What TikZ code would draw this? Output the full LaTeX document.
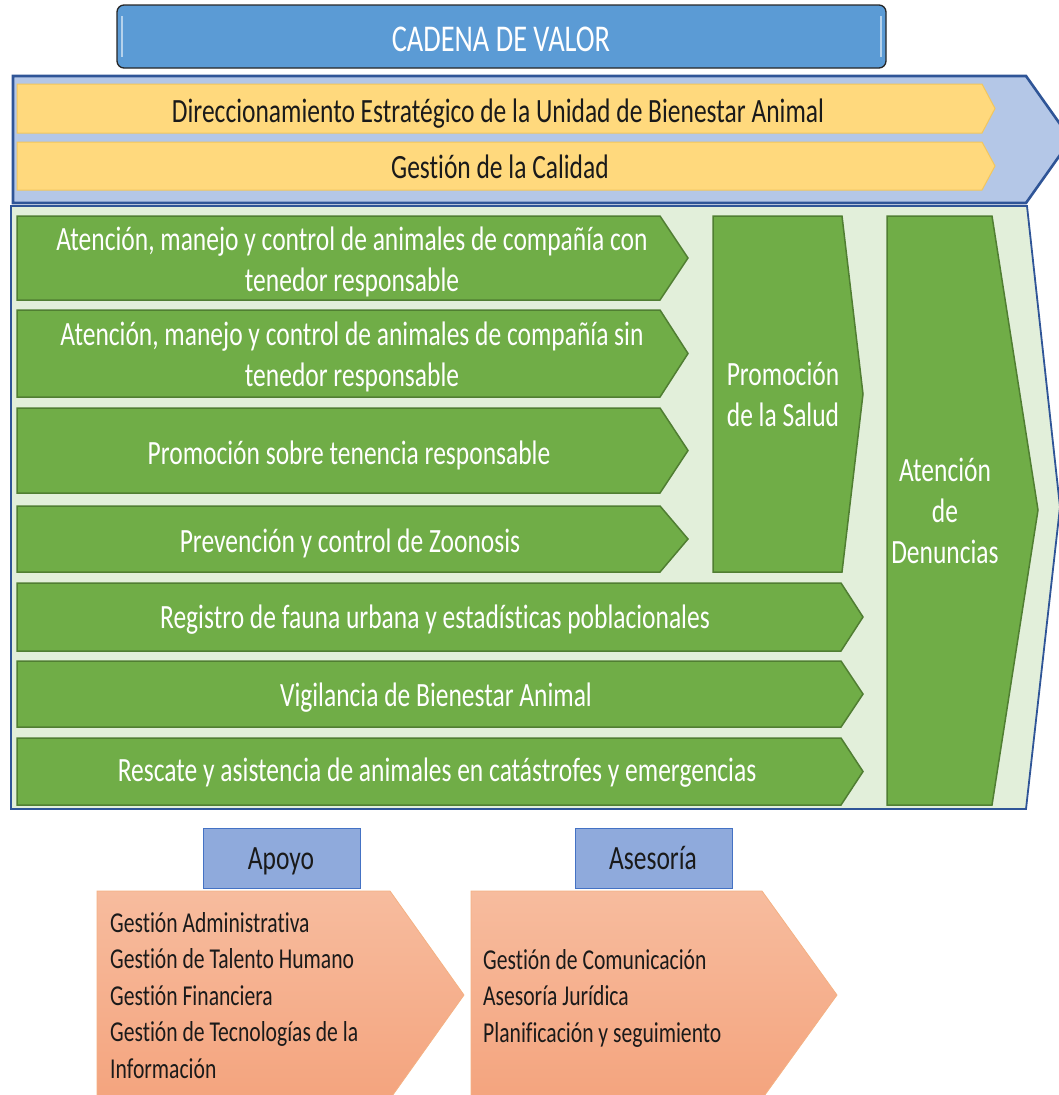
\documentclass[tikz,border=0pt]{standalone}
\usepackage{fontspec}
\setmainfont[FakeStretch=0.75, Ligatures={NoCommon}]{Carlito}
\newcommand\fsz[2]{\fontsize{#1}{#2}\selectfont}
\definecolor{titleblue}{HTML}{5B9BD5}
\definecolor{chevblue}{HTML}{B4C7E7}
\definecolor{darkblue}{HTML}{2F5597}
\definecolor{yel}{HTML}{FFD97D}
\definecolor{yeledge}{HTML}{F2C65E}
\definecolor{bggreen}{HTML}{E2EFDA}
\definecolor{grn}{HTML}{70AD47}
\definecolor{grnedge}{HTML}{507E32}
\definecolor{boxblue}{HTML}{8FAADC}
\definecolor{boxedge}{HTML}{4472C4}
\definecolor{orgtop}{HTML}{F7BC9E}
\definecolor{orgbot}{HTML}{F4A47E}
\definecolor{orgedge}{HTML}{F4B183}
\definecolor{txt}{HTML}{1A1A1A}
\tikzset{
  titlebox/.style={fill=titleblue, draw=black!85, line width=1.3pt, rounded corners=7pt},
  bigchev/.style={fill=chevblue, draw=darkblue, line width=2.6pt, line join=miter},
  yelbar/.style={fill=yel, draw=yeledge, line width=1pt},
  bgpanel/.style={fill=bggreen, draw=darkblue, line width=1.8pt},
  grnbar/.style={fill=grn, draw=grnedge, line width=1.5pt},
  labbox/.style={fill=boxblue, draw=boxedge, line width=1pt},
  orgchev/.style={top color=orgtop, bottom color=orgbot, draw=orgedge, line width=0.8pt},
  wtext/.style={text=white, align=center, inner sep=0pt, anchor=base, font=\fsz{34}{40.5}},
  dtext/.style={text=txt, align=center, inner sep=0pt, anchor=base, font=\fsz{34}{40.5}},
  ltext/.style={text=txt, align=left, inner sep=0pt, anchor=base west, font=\fsz{28.8}{36.5}},
}
% chevron: [style]{left}{top}{rect right}{tip}{bottom}
\newcommand\chevshape[6][]{\path[#1] (#2,#3) -- (#4,#3) -- ({#5},{(#3+#6)/2}) -- (#4,#6) -- (#2,#6) -- cycle;}
\begin{document}
\begin{tikzpicture}[x=1pt,y=-1pt]
\useasboundingbox (0,0) rectangle (1059,1095);
% title
\path[titlebox] (117,5) rectangle (886,68);
\draw[line width=1.5pt, white!55!titleblue] (122,16) -- (122,57);
\draw[line width=1.5pt, white!55!titleblue] (881,16) -- (881,57);
\node[text=white, inner sep=0pt, anchor=base, font=\fsz{37.8}{40}] (title) at (501,51) {CADENA DE VALOR};
% strategic chevron
\path[bigchev] (13,76) -- (1026,76) -- (1071,139.5) -- (1026,203) -- (13,203) -- cycle;
\chevshape[yelbar]{17}{84}{982}{995}{133}
\chevshape[yelbar]{17}{142}{982}{995}{190}
\node[dtext] (dir) at (498,122) {Direccionamiento Estratégico de la Unidad de Bienestar Animal};
\node[dtext] (cal) at (500,178) {Gestión de la Calidad};
% mission panel
\path[bgpanel] (11,206) -- (1027,206) -- (1060,507) -- (1026,809) -- (11,809) -- cycle;
\chevshape[grnbar]{17}{216}{660}{688}{300}
\chevshape[grnbar]{17}{310}{660}{688}{397}
\chevshape[grnbar]{17}{408}{660}{688}{493}
\chevshape[grnbar]{17}{506}{660}{688}{572}
\chevshape[grnbar]{17}{583}{841}{863}{651}
\chevshape[grnbar]{17}{661}{841}{863}{727}
\chevshape[grnbar]{17}{738}{841}{863}{805}
\path[grnbar] (713,216) -- (842,216) -- (863,394) -- (842,572) -- (713,572) -- cycle;
\path[grnbar] (887,216) -- (992,216) -- (1038,510) -- (992,805) -- (887,805) -- cycle;
\node[wtext] (m1) at (352,291) {Atención, manejo y control de animales de compañía con\\tenedor responsable};
\node[wtext] (m2) at (352,386) {Atención, manejo y control de animales de compañía sin\\tenedor responsable};
\node[wtext] (m3) at (349,464) {Promoción sobre tenencia responsable};
\node[wtext] (m4) at (350,552) {Prevención y control de Zoonosis};
\node[wtext] (m5) at (435,628) {Registro de fauna urbana y estadísticas poblacionales};
\node[wtext] (m6) at (436,706) {Vigilancia de Bienestar Animal};
\node[wtext] (m7) at (437,781) {Rescate y asistencia de animales en catástrofes y emergencias};
\node[wtext] (ps) at (783,426) {Promoción\\de la Salud};
\node[wtext, font=\fsz{34}{41}] (den) at (945,563) {Atención\\de\\Denuncias};
% support
\path[labbox] (203,828) rectangle (360,888);
\path[labbox] (575,828) rectangle (732,888);
\node[dtext] (apoyo) at (281,869) {Apoyo};
\node[dtext] (ases) at (653,869) {Asesoría};
\chevshape[orgchev]{97}{891}{390}{464}{1099}
\chevshape[orgchev]{471}{891}{762}{837}{1099}
\node[ltext] (sup) at (110,1078) {Gestión Administrativa\\Gestión de Talento Humano\\Gestión Financiera\\Gestión de Tecnologías de la\\Información};
\node[ltext] (adv) at (483,1042) {Gestión de Comunicación\\Asesoría Jurídica\\Planificación y seguimiento};
\end{tikzpicture}
\end{document}
